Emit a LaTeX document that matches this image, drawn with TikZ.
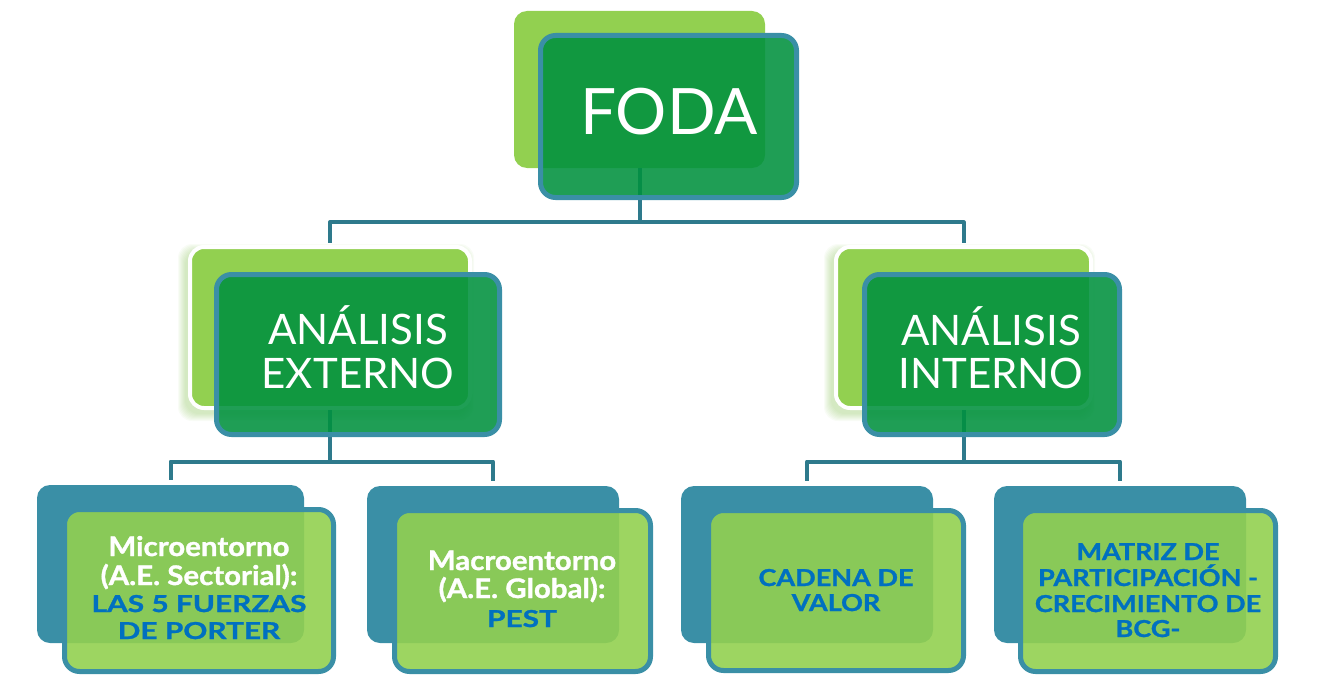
\documentclass[tikz,border=0pt]{standalone}
\usepackage{fontspec}
\newfontfamily\capfont{Lato}
\newfontfamily\whitebold{Lato}[FakeStretch=1.09, FakeBold=1.2]
\newfontfamily\bluewide{Lato}[FakeStretch=1.28, FakeBold=1.2]
\newfontfamily\bluenarrow{Lato}[FakeStretch=1.16, FakeBold=1.2]
\definecolor{lgreen}{RGB}{146,208,80}
\definecolor{dgreen}{RGB}{0,145,62}
\definecolor{bordert}{RGB}{58,143,166}
\definecolor{tealb}{RGB}{58,143,166}
\definecolor{linkc}{RGB}{46,122,140}
\definecolor{bluet}{RGB}{0,112,192}
\definecolor{glowc}{RGB}{110,180,50}
\tikzset{
  box/.style={rectangle, inner sep=0pt, minimum width=#1},
  backlight/.style={fill=lgreen, rounded corners=13pt},
  backwhite/.style={fill=lgreen, draw=white, line width=4pt, rounded corners=14pt},
  backteal/.style={fill=tealb, rounded corners=13pt},
  frontdark/.style={fill=dgreen, fill opacity=0.88, draw=bordert, line width=5pt, rounded corners=15pt},
  frontlight/.style={fill=lgreen, fill opacity=0.9, draw=bordert, line width=5pt, rounded corners=15pt},
  link/.style={draw=linkc, line width=4pt, line join=round},
  txt/.style={anchor=base, inner sep=0pt, text=white},
  bigtxt/.style={txt, font=\capfont\fontsize{64}{64}\selectfont},
  midtxt/.style={txt, font=\capfont\fontsize{42}{44}\selectfont},
  wtxt/.style={txt, font=\whitebold\bfseries\fontsize{27}{28}\selectfont},
  btxt/.style={txt, text=bluet, font=\bluewide\bfseries\fontsize{23.3}{26}\selectfont},
  bntxt/.style={txt, text=bluet, font=\bluenarrow\bfseries\fontsize{23.3}{26}\selectfont},
}
\begin{document}
\begin{tikzpicture}[x=1pt, y=-1pt]
\useasboundingbox (0,0) rectangle (1332,690);

% soft glow under the two second-level back boxes
\foreach \cx/\w in {330/280, 963.5/255} {
  \foreach \i in {1,...,8} {
    \fill[glowc, opacity=0.045, rounded corners=14pt]
      (\cx-\w/2-4-\i, 247+5-\i) rectangle (\cx+\w/2-4+\i, 408+5+\i);
  }
}

% back boxes
\node[box=251pt, minimum height=157pt, backlight] (fodaB) at (639.5,89.5) {};
\node[box=280pt, minimum height=161pt, backwhite] (extB) at (330,327.5) {};
\node[box=255pt, minimum height=161pt, backwhite] (intB) at (963.5,327.5) {};
\node[box=267pt, minimum height=158pt, backteal] (microB) at (170.5,564) {};
\node[box=252pt, minimum height=157pt, backteal] (macroB) at (493,564.5) {};
\node[box=252pt, minimum height=157pt, backteal] (cadB) at (807,564.5) {};
\node[box=252pt, minimum height=157pt, backteal] (bcgB) at (1120,564.5) {};

% connectors, drawn before the translucent front boxes
\draw[link, shorten >=2pt] (fodaB.south) -- ++(0,54) -| (extB.north);
\draw[link, shorten >=2pt] (fodaB.south) -- ++(0,54) -| (intB.north);
\draw[link, shorten >=5pt] (extB.south) -- ++(0,51.5) -| (microB.north);
\draw[link, shorten >=5pt] (extB.south) -- ++(0,51.5) -| (macroB.north);
\draw[link, shorten >=5pt] (intB.south) -- ++(0,51.5) -| (cadB.north);
\draw[link, shorten >=5pt] (intB.south) -- ++(0,51.5) -| (bcgB.north);

% front boxes
\node[box=256pt, minimum height=162pt, frontdark] (fodaF) at (668.5,116.5) {};
\node[box=283pt, minimum height=160pt, frontdark] (extF) at (358,354.5) {};
\node[box=255pt, minimum height=160pt, frontdark] (intF) at (992,354.5) {};
\node[box=269pt, minimum height=162pt, frontlight] (microF) at (199,590.5) {};
\node[box=256pt, minimum height=161pt, frontlight] (macroF) at (522.5,591) {};
\node[box=255pt, minimum height=160pt, frontlight] (cadF) at (836,590.5) {};
\node[box=255pt, minimum height=161pt, frontlight] (bcgF) at (1148,591) {};

% labels
\node[bigtxt] (fodaT) at (669,135) {FODA};
\node[midtxt] (extT1) at (358,344) {ANÁLISIS};
\node[midtxt] (extT2) at (358,388) {EXTERNO};
\node[midtxt] (intT1) at (991,345) {ANÁLISIS};
\node[midtxt] (intT2) at (991,388) {INTERNO};

\node[wtxt] (microT1) at (199,556) {Microentorno};
\node[wtxt] (microT2) at (199,585) {(A.E. Sectorial):};
\node[btxt] (microT3) at (199,612) {LAS 5 FUERZAS};
\node[btxt] (microT4) at (199,639) {DE PORTER};

\node[wtxt] (macroT1) at (522,570) {Macroentorno};
\node[wtxt] (macroT2) at (522,598) {(A.E. Global):};
\node[btxt] (macroT3) at (522,627) {PEST};

\node[bntxt] (cadT1) at (836,586) {CADENA DE};
\node[bntxt] (cadT2) at (836,611) {VALOR};

\node[bntxt] (bcgT1) at (1148,560) {MATRIZ DE};
\node[bntxt] (bcgT2) at (1148,586) {PARTICIPACIÓN -};
\node[bntxt] (bcgT3) at (1148,612) {CRECIMIENTO DE};
\node[bntxt] (bcgT4) at (1148,637) {BCG-};
\end{tikzpicture}
\end{document}
